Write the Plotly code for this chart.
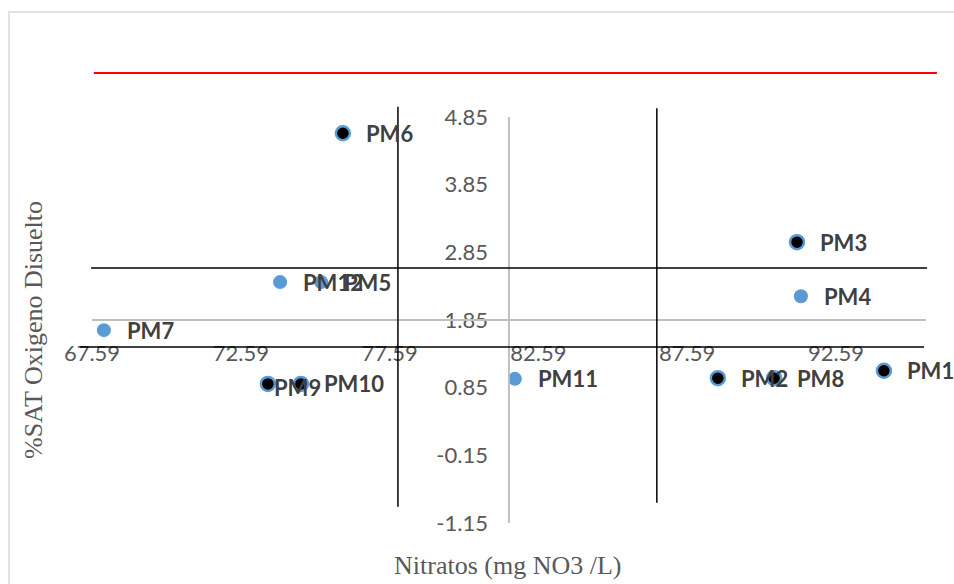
import plotly.graph_objects as go

# ---- data ----
labels = ["PM1", "PM2", "PM3", "PM4", "PM5", "PM6", "PM7", "PM8", "PM9", "PM10", "PM11", "PM12"]
nitratos = [94.20, 88.62, 91.28, 91.41, 75.29, 76.02, 67.99, 90.51, 73.50, 74.61, 81.80, 73.91]
oxigeno = [1.10, 0.99, 3.00, 2.20, 2.41, 4.61, 1.70, 0.99, 0.905, 0.905, 0.98, 2.41]
black_fill = ["PM1", "PM2", "PM3", "PM6", "PM8", "PM9", "PM10"]

x_tick_vals = [67.59, 72.59, 77.59, 82.59, 87.59, 92.59]
x_tick_text = ["67.59", "72.59", "77.59", "82.59", "87.59", "92.59"]
y_tick_vals = [-1.15, -0.15, 0.85, 1.85, 2.85, 3.85, 4.85]
y_tick_text = ["-1.15", "-0.15", "0.85", "1.85", "2.85", "3.85", "4.85"]

# axis crossing values (means) and quadrant reference lines
mean_x = 81.6
mean_y = 1.85
quad_x = [77.87, 86.57]
quad_y = [2.62, 1.45]
red_y = 5.50

# ---- styling ----
BLUE = "#5B9BD5"
TICK_COLOR = "#595959"
LABEL_COLOR = "#404040"
X_RANGE = [66.515, 96.219]
Y_RANGE = [-1.475, 5.692]
W, H = 954, 584
L, R, T, B = 60, 10, 60, 39
PW, PH = W - L - R, H - T - B


def px_x(p):  # screen pixel -> paper x
    return (p - L) / PW


def px_y(p):  # screen pixel -> paper y
    return (H - B - p) / PH


fig = go.Figure()
fig.add_trace(go.Scatter(
    x=nitratos, y=oxigeno, mode="markers",
    marker=dict(
        size=14,
        color=["#000000" if n in black_fill else BLUE for n in labels],
        line=dict(color=BLUE, width=[2.5 if n in black_fill else 0 for n in labels]),
    ),
    hovertext=labels, hoverinfo="text+x+y", showlegend=False,
))

nudge = {"PM9": (-17, -4)}
annotations = []
for n, xv, yv in zip(labels, nitratos, oxigeno):
    dx, dy = nudge.get(n, (0, 0))
    annotations.append(dict(
        x=xv, y=yv, xref="x", yref="y", text=f"<b>{n}</b>", showarrow=False,
        xanchor="left", yanchor="middle", xshift=21 + dx, yshift=dy,
        font=dict(family="Lato", size=22, color=LABEL_COLOR),
    ))

annotations.append(dict(
    x=px_x(507), y=px_y(565), xref="paper", yref="paper", text="Nitratos (mg NO3 /L)",
    showarrow=False, xanchor="center", yanchor="middle",
    font=dict(family="Liberation Serif", size=26, color=TICK_COLOR),
))
annotations.append(dict(
    x=px_x(33), y=px_y(330), xref="paper", yref="paper", text="%SAT Oxigeno Disuelto",
    showarrow=False, xanchor="center", yanchor="middle", textangle=-90,
    font=dict(family="Liberation Serif", size=26, color=TICK_COLOR),
))

shapes = [
    # chart border
    dict(type="rect", xref="paper", yref="paper", x0=px_x(9), y0=px_y(12), x1=px_x(975), y1=px_y(605),
         line=dict(color="#D9D9D9", width=1.5), layer="below"),
    # gray axis lines crossing at means
    dict(type="line", xref="x", yref="y", x0=mean_x, x1=mean_x, y0=-1.15, y1=4.85,
         line=dict(color="#BFBFBF", width=2)),
    dict(type="line", xref="x", yref="y", x0=67.59, x1=95.61, y0=mean_y, y1=mean_y,
         line=dict(color="#BFBFBF", width=2)),
    # black reference lines
    dict(type="line", xref="x", yref="y", x0=quad_x[0], x1=quad_x[0], y0=-0.91, y1=5.0,
         line=dict(color="#000000", width=1.5)),
    dict(type="line", xref="x", yref="y", x0=quad_x[1], x1=quad_x[1], y0=-0.85, y1=4.98,
         line=dict(color="#000000", width=1.5)),
    dict(type="line", xref="x", yref="y", x0=67.56, x1=95.65, y0=quad_y[0], y1=quad_y[0],
         line=dict(color="#000000", width=1.5)),
    dict(type="line", xref="x", yref="y", x0=67.19, x1=95.55, y0=quad_y[1], y1=quad_y[1],
         line=dict(color="#000000", width=1.5)),
    # red line
    dict(type="line", xref="x", yref="y", x0=67.65, x1=95.98, y0=red_y, y1=red_y,
         line=dict(color="#FF0000", width=2)),
]

fig.update_layout(
    width=W, height=H, margin=dict(l=L, r=R, t=T, b=B),
    paper_bgcolor="white", plot_bgcolor="white",
    annotations=annotations, shapes=shapes,
    xaxis=dict(range=X_RANGE, showgrid=False, zeroline=False, showline=False,
               anchor="free", position=px_y(338), tickvals=x_tick_vals, ticktext=x_tick_text,
               ticks="", tickfont=dict(family="Lato", size=22, color=TICK_COLOR)),
    yaxis=dict(range=Y_RANGE, showgrid=False, zeroline=False, showline=False,
               anchor="free", position=px_x(488), tickvals=y_tick_vals, ticktext=y_tick_text,
               ticks="", tickfont=dict(family="Lato", size=22, color=TICK_COLOR)),
)

fig.write_html(
    "out.html",
    config={"displayModeBar": False},
    post_script="document.body.style.margin='0';document.body.style.overflow='hidden';",
)
